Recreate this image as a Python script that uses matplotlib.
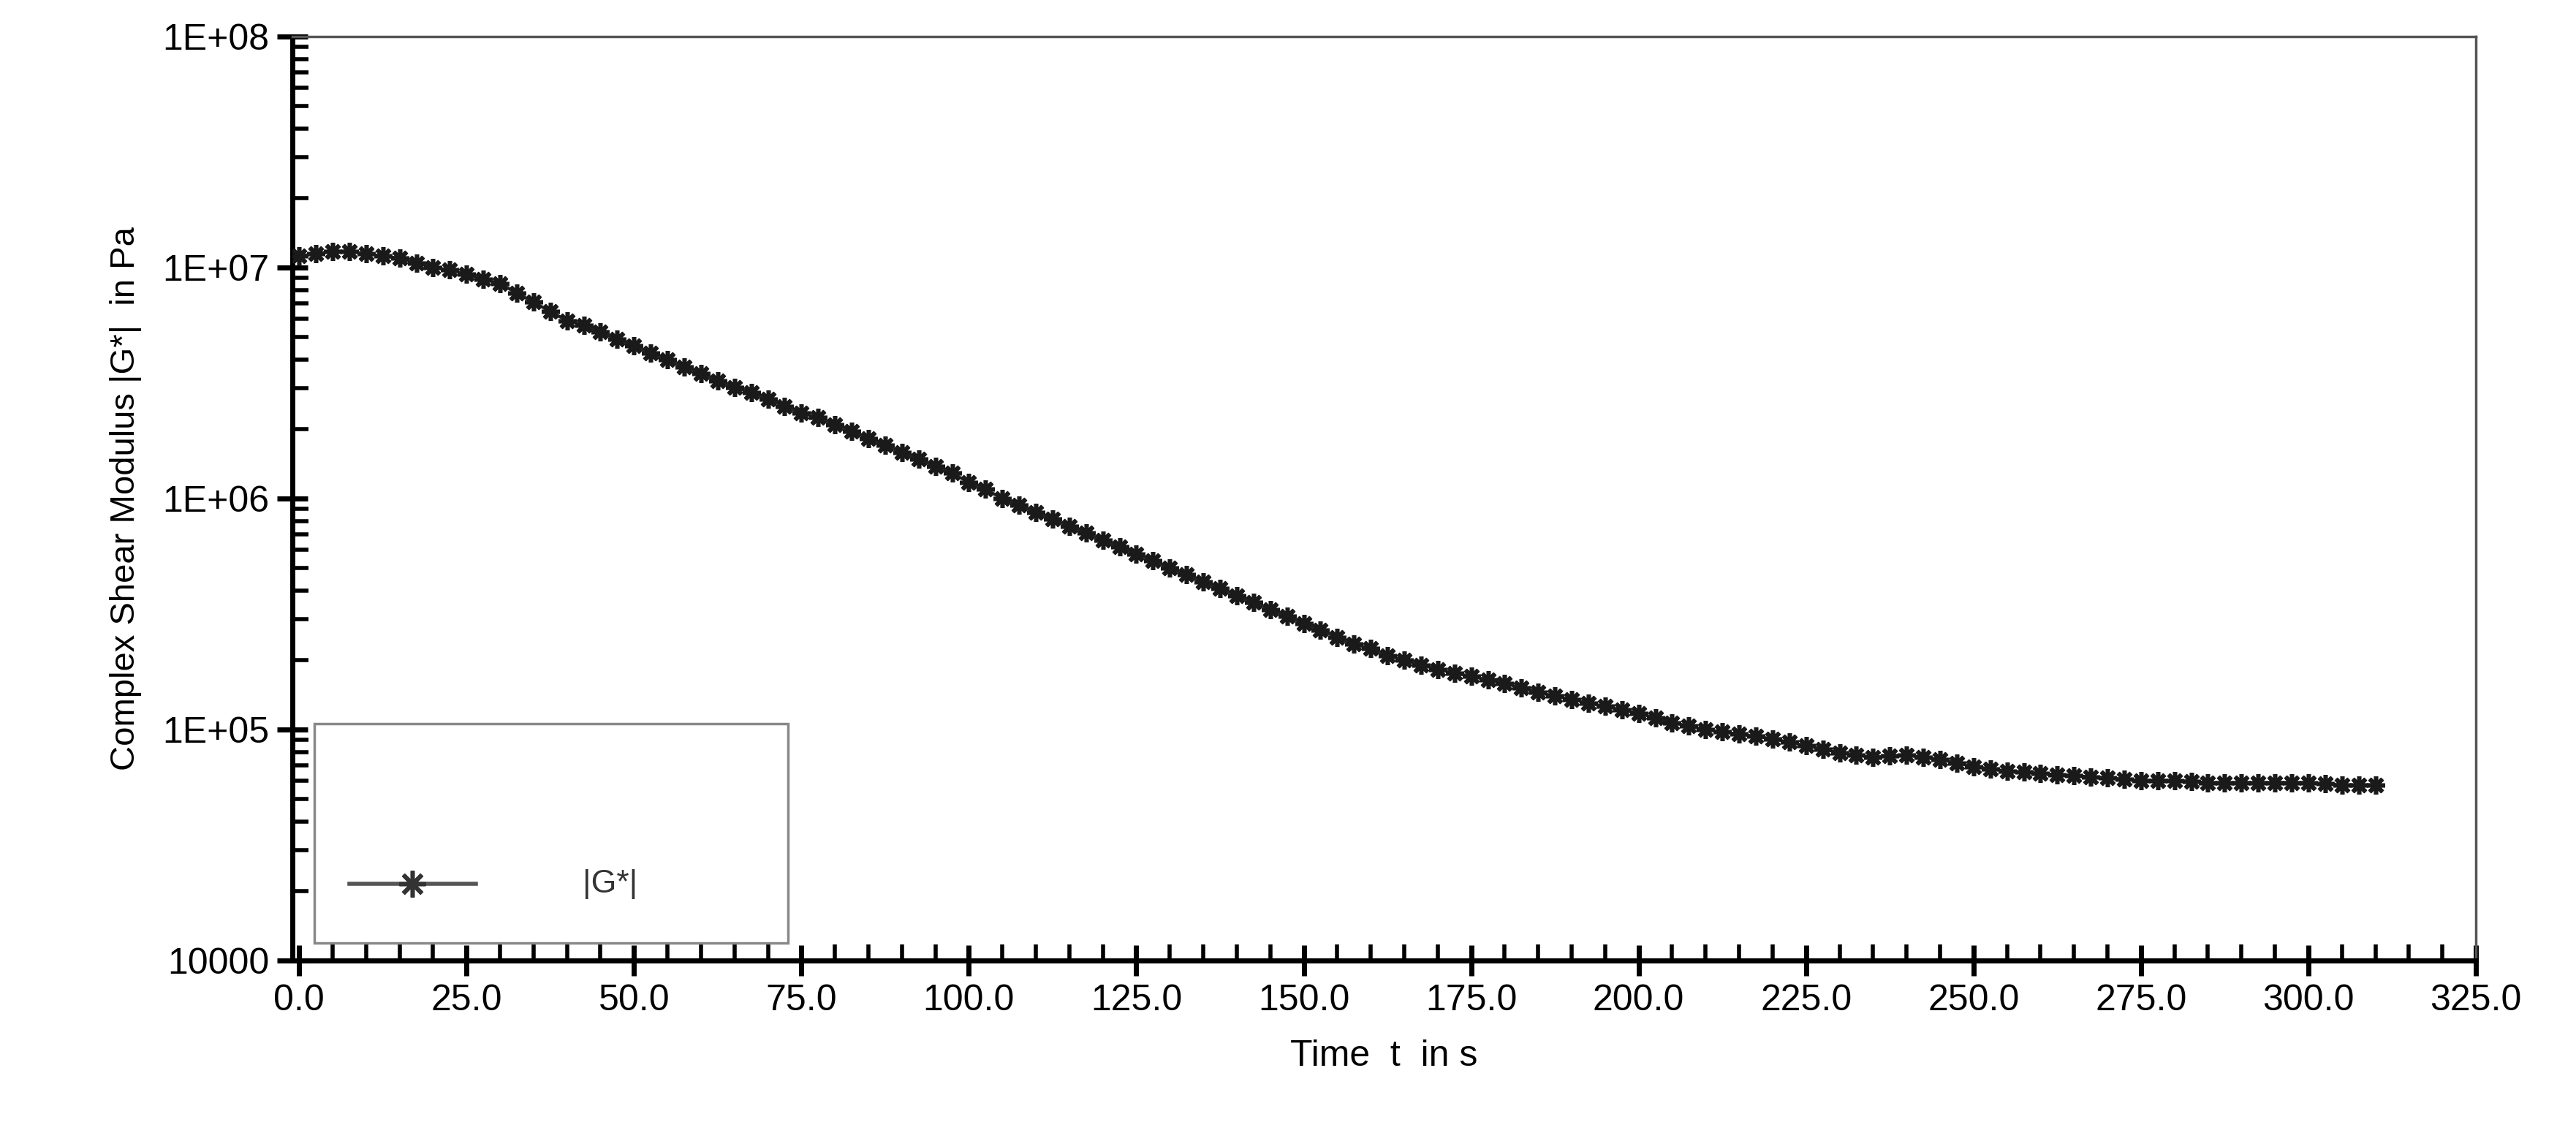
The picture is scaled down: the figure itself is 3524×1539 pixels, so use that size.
import numpy as np
import matplotlib.pyplot as plt
from matplotlib.patches import Rectangle
from matplotlib.ticker import MultipleLocator, LogLocator, FixedFormatter, FixedLocator, NullFormatter

plt.rcParams['font.family'] = ['Liberation Sans', 'DejaVu Sans']

# time in s, every 2.5 s
time_s = np.arange(0, 310.1, 2.5)
# log10 of |G*|
log_g = [
    7.05, 7.06, 7.07, 7.07, 7.06, 7.05, 7.04, 7.02, 7.00, 6.99,
    6.97, 6.95, 6.93, 6.89, 6.85, 6.81, 6.77, 6.75, 6.72, 6.69,
    6.66, 6.63, 6.60, 6.57, 6.54, 6.51, 6.48, 6.46, 6.43, 6.40,
    6.37, 6.35, 6.32, 6.29, 6.26, 6.23, 6.20, 6.17, 6.14, 6.11,
    6.07, 6.04, 6.00, 5.97, 5.94, 5.91, 5.88, 5.85, 5.82, 5.79,
    5.76, 5.73, 5.70, 5.67, 5.64, 5.61, 5.58, 5.55, 5.52, 5.49,
    5.46, 5.43, 5.40, 5.37, 5.35, 5.32, 5.30, 5.28, 5.26, 5.245,
    5.23, 5.215, 5.20, 5.18, 5.16, 5.145, 5.13, 5.115, 5.10, 5.085,
    5.07, 5.05, 5.03, 5.015, 5.00, 4.99, 4.98, 4.97, 4.96, 4.945,
    4.93, 4.915, 4.90, 4.89, 4.88, 4.885, 4.89, 4.88, 4.87, 4.855,
    4.84, 4.83, 4.82, 4.815, 4.81, 4.805, 4.80, 4.795, 4.79, 4.785,
    4.78, 4.78, 4.78, 4.775, 4.77, 4.77, 4.77, 4.77, 4.77, 4.77,
    4.77, 4.765, 4.76, 4.76, 4.76,
]
g_star = 10 ** np.array(log_g)

y_ticks = [1e4, 1e5, 1e6, 1e7, 1e8]
y_labels = ["10000", "1E+05", "1E+06", "1E+07", "1E+08"]
x_ticks = np.arange(0, 325.1, 25)
x_labels = [f"{v:.1f}" for v in x_ticks]

star = (8, 2, 0)

fig = plt.figure(figsize=(35.24, 15.39), dpi=100)
ax = fig.add_axes([400 / 3524, 1 - 1314 / 1539, 2987 / 3524, 1264 / 1539])

ax.plot(time_s, g_star, color="#222222", linewidth=3, marker=star,
        markersize=18, markeredgewidth=4, markeredgecolor="#1a1a1a", zorder=3)

ax.set_yscale("log")
ax.set_xlim(0 - 1, 325)
ax.set_ylim(1e4, 1e8)

ax.yaxis.set_major_locator(FixedLocator(y_ticks))
ax.yaxis.set_major_formatter(FixedFormatter(y_labels))
ax.yaxis.set_minor_locator(LogLocator(base=10, subs=np.arange(2, 10)))
ax.yaxis.set_minor_formatter(NullFormatter())
ax.xaxis.set_major_locator(FixedLocator(x_ticks))
ax.xaxis.set_major_formatter(FixedFormatter(x_labels))
ax.xaxis.set_minor_locator(MultipleLocator(5))

ax.tick_params(which="major", direction="inout", length=30, width=5,
               labelsize=36, pad=8, top=False, right=False)
ax.tick_params(which="minor", direction="in", length=16, width=4,
               top=False, right=False)

for side in ("left", "bottom"):
    ax.spines[side].set_linewidth(5)
    ax.spines[side].set_color("black")
for side in ("top", "right"):
    ax.spines[side].set_linewidth(2.5)
    ax.spines[side].set_color("#555555")

ax.set_xlabel("Time  t  in s", fontsize=36, labelpad=22)
ax.set_ylabel("Complex Shear Modulus |G*|  in Pa", fontsize=34, labelpad=20)

# legend box
ax.add_patch(Rectangle((0.01, 0.019), 0.217, 0.237, transform=ax.transAxes,
                       facecolor="white", edgecolor="#888888", linewidth=2.5, zorder=4))
ax.plot([0.026, 0.084], [0.083, 0.083], transform=ax.transAxes, color="#555555",
        linewidth=4, zorder=5)
ax.plot([0.055], [0.083], transform=ax.transAxes, marker=star, markersize=26,
        markeredgewidth=4, color="#333333", zorder=6)
ax.text(0.133, 0.083, "|G*|", transform=ax.transAxes, fontsize=32,
        va="center", ha="left", color="#333333", zorder=6)

fig.savefig("out.png", dpi=100)
